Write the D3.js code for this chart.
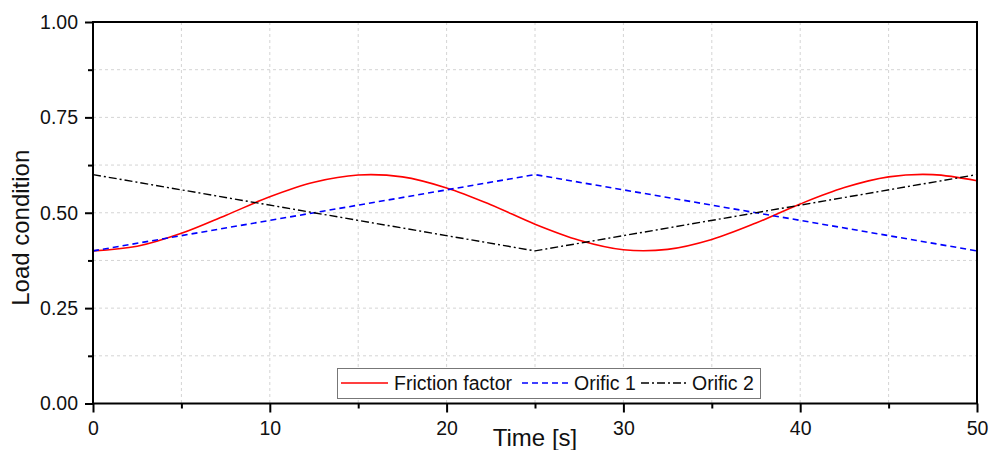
<!DOCTYPE html>
<html><head><meta charset="utf-8">
<script src="https://cdn.jsdelivr.net/npm/d3@7/dist/d3.min.js"></script>
<style>body{margin:0;background:#fff}svg{display:block}text{font-family:"Liberation Sans",Arial,sans-serif}</style>
</head><body><svg id="c" width="990" height="450"></svg>
<script>
const time = [0,2.5,5,7.5,10,12.5,15,17.5,20,22.5,25,27.5,30,32.5,35,37.5,40,42.5,45,47.5,50];
const friction = [0.400,0.412,0.446,0.493,0.542,0.580,0.599,0.594,0.565,0.521,0.470,0.428,0.403,0.404,0.430,0.473,0.523,0.566,0.594,0.600,0.584];
const orificTime = [0,25,50];
const orific1 = [0.40,0.60,0.40];
const orific2 = [0.60,0.40,0.60];
const xTicks = [0,10,20,30,40,50];
const xMinor = [5,15,25,35,45];
const yTicks = [0,0.25,0.5,0.75,1.0];
const yMinor = [0.125,0.375,0.625,0.875];
const seriesNames = ["Friction factor","Orific 1","Orific 2"];

const L=93,R=977,T=22,B=403.5;
const svg=d3.select("#c");
const x=d3.scaleLinear().domain([0,50]).range([L,R]);
const y=d3.scaleLinear().domain([0,1]).range([B,T]);

// grid
const g=svg.append("g");
xTicks.concat(xMinor).filter(v=>v>0&&v<50).forEach(v=>{
  g.append("line").attr("x1",x(v)).attr("x2",x(v)).attr("y1",T).attr("y2",B)
   .attr("stroke","#d4d4d4").attr("stroke-width",1).attr("stroke-dasharray","3,3");
});
yTicks.concat(yMinor).filter(v=>v>0&&v<1).forEach(v=>{
  g.append("line").attr("x1",L).attr("x2",R).attr("y1",y(v)).attr("y2",y(v))
   .attr("stroke","#d4d4d4").attr("stroke-width",1).attr("stroke-dasharray","3,3");
});

// lines
const line=d3.line().x(d=>x(d[0])).y(d=>y(d[1]));
svg.append("path").datum(time.map((t,i)=>[t,friction[i]]))
  .attr("d",line.curve(d3.curveCatmullRom)).attr("fill","none").attr("stroke","#ff0000").attr("stroke-width",1.6);
const line2=d3.line().x(d=>x(d[0])).y(d=>y(d[1]));
svg.append("path").datum(orificTime.map((t,i)=>[t,orific1[i]]))
  .attr("d",line2).attr("fill","none").attr("stroke","#0000ff").attr("stroke-width",1.6).attr("stroke-dasharray","6,4");
svg.append("path").datum(orificTime.map((t,i)=>[t,orific2[i]]))
  .attr("d",line2).attr("fill","none").attr("stroke","#000").attr("stroke-width",1.4).attr("stroke-dasharray","8,3,2,3");

// axes
const xa=svg.append("g").attr("transform",`translate(0,${B})`)
  .call(d3.axisBottom(x).tickValues(xTicks).tickSize(9).tickPadding(9).tickFormat(d3.format("d")));
const xm=svg.append("g").attr("transform",`translate(0,${B})`)
  .call(d3.axisBottom(x).tickValues(xMinor).tickSize(5).tickFormat(""));
const ya=svg.append("g").attr("transform",`translate(${L},0)`)
  .call(d3.axisLeft(y).tickValues(yTicks).tickSize(8).tickPadding(7).tickFormat(d3.format(".2f")));
const ym=svg.append("g").attr("transform",`translate(${L},0)`)
  .call(d3.axisLeft(y).tickValues(yMinor).tickSize(5).tickFormat(""));
[xa,xm,ya,ym].forEach(a=>{
  a.selectAll(".domain").remove();
  a.selectAll(".tick line").attr("stroke","#000").attr("stroke-width",2);
  a.selectAll(".tick text").attr("font-size","19.5px").attr("fill","#111").attr("font-family","Liberation Sans, Arial, sans-serif");
});
// frame
svg.append("rect").attr("x",L).attr("y",T).attr("width",R-L).attr("height",B-T)
  .attr("fill","none").attr("stroke","#000").attr("stroke-width",2);

// titles
svg.append("text").attr("x",(L+R)/2).attr("y",446).attr("text-anchor","middle")
  .attr("font-size","24px").attr("fill","#111").text("Time [s]");
svg.append("text").attr("transform",`translate(29,${(T+B)/2+15}) rotate(-90)`).attr("text-anchor","middle")
  .attr("font-size","24px").attr("fill","#111").text("Load condition");

// legend
const lg=svg.append("g");
lg.append("rect").attr("x",337.5).attr("y",368.5).attr("width",423).attr("height",30)
  .attr("fill","#fff").attr("stroke","#777").attr("stroke-width",1);
const items=[
  {name:seriesNames[0],x1:341,x2:388,tx:394,color:"#ff0000",dash:null},
  {name:seriesNames[1],x1:522,x2:569,tx:574,color:"#0000ff",dash:"6,4"},
  {name:seriesNames[2],x1:641,x2:688,tx:692,color:"#000",dash:"8,3,2,3"}
];
items.forEach(it=>{
  lg.append("line").attr("x1",it.x1).attr("x2",it.x2).attr("y1",383).attr("y2",383)
    .attr("stroke",it.color).attr("stroke-width",1.5).attr("stroke-dasharray",it.dash);
  lg.append("text").attr("x",it.tx).attr("y",390).attr("font-size","19.5px").attr("fill","#111").text(it.name);
});
</script></body></html>
